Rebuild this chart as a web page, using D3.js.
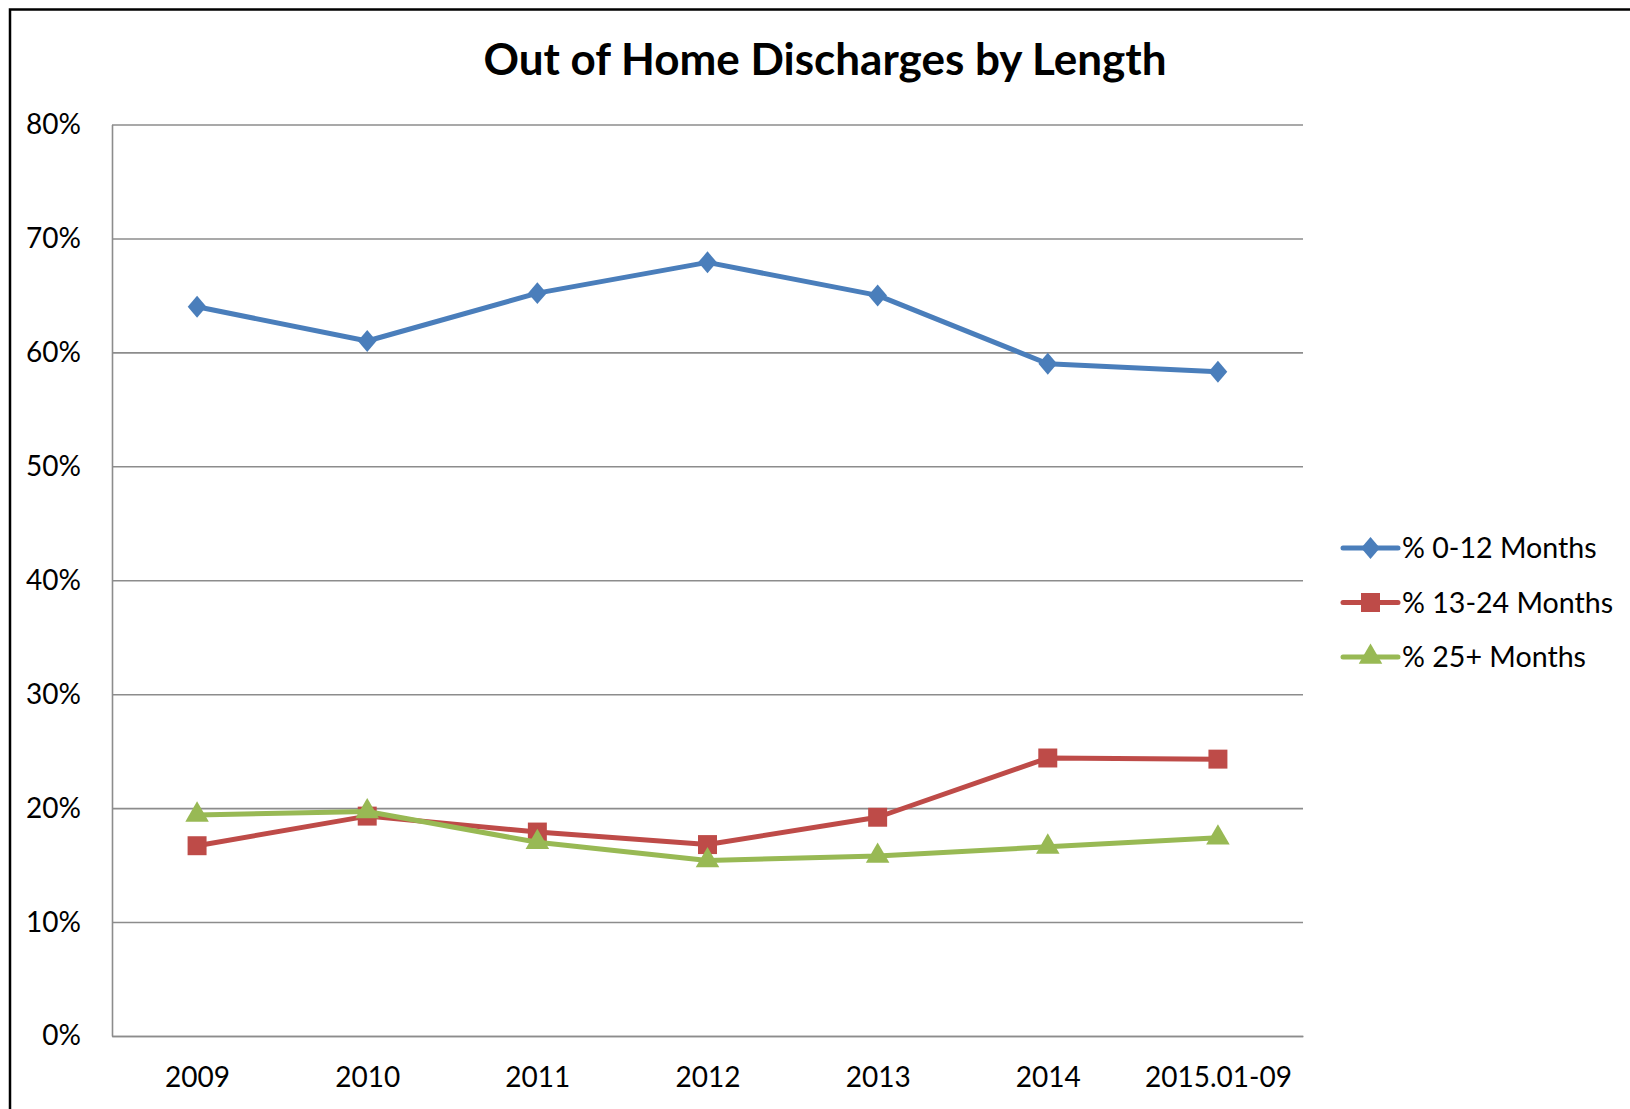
<!DOCTYPE html>
<html>
<head>
<meta charset="utf-8">
<script src="https://cdn.jsdelivr.net/npm/d3@7"></script>
<style>
  body { margin: 0; background: #fff; }
  svg { display: block; font-family: Lato, "Open Sans", sans-serif; }
</style>
</head>
<body>
<svg id="chart"></svg>
<script>
// chart data
var categories = ["2009", "2010", "2011", "2012", "2013", "2014", "2015.01-09"];
var seriesNames = ["% 0-12 Months", "% 13-24 Months", "% 25+ Months"];
var months0to12 = [0.640, 0.610, 0.652, 0.679, 0.650, 0.590, 0.583];
var months13to24 = [0.167, 0.193, 0.179, 0.168, 0.192, 0.244, 0.243];
var months25plus = [0.194, 0.197, 0.170, 0.154, 0.158, 0.166, 0.174];
var yTicks = [0, 0.1, 0.2, 0.3, 0.4, 0.5, 0.6, 0.7, 0.8];

var colors = ["#4a7ebb", "#be4b48", "#98b954"];
var shapes = ["diamond", "square", "triangle"];

var W = 1630, H = 1109;
var margin = { left: 112, right: 327, top: 124.5, bottom: 73 };
var width = W - margin.left - margin.right,
  height = H - margin.top - margin.bottom;

var svg = d3.select("#chart").attr("width", W).attr("height", H);

// outer frame (runs off the right and bottom edges like the original)
svg.append("rect")
  .attr("x", 10).attr("y", 9.5)
  .attr("width", W + 20).attr("height", H + 20)
  .attr("fill", "none").attr("stroke", "#000").attr("stroke-width", 2.5);

svg.append("text")
  .attr("x", 825).attr("y", 75)
  .attr("text-anchor", "middle")
  .attr("font-weight", "bold")
  .attr("font-size", 44)
  .text("Out of Home Discharges by Length");

var g = svg.append("g").attr("transform", `translate(${margin.left},${margin.top})`);

var x = d3.scalePoint().domain(categories).range([0, width]).padding(0.5);
var y = d3.scaleLinear().domain([0, 0.8]).range([height, 0]);

// gridlines
g.append("g")
  .attr("class", "grid")
  .call(d3.axisLeft(y).tickValues(yTicks).tickSize(-width).tickFormat(""))
  .call((a) => a.select(".domain").remove())
  .call((a) => a.selectAll("line").attr("stroke", "#8c8c8c").attr("stroke-width", 1.6));

// y labels
g.append("g")
  .call(d3.axisLeft(y).tickValues(yTicks).tickSize(0).tickPadding(31).tickFormat(d3.format(".0%")))
  .call((a) => a.select(".domain").attr("stroke", "#8c8c8c").attr("stroke-width", 1.6))
  .call((a) => a.selectAll("text").attr("font-size", 28).attr("fill", "#000")
    .attr("font-family", "Lato, sans-serif"));

// x axis
g.append("g")
  .attr("transform", `translate(0,${height})`)
  .call(d3.axisBottom(x).tickSize(0))
  .call((a) => a.select(".domain").attr("stroke", "#8c8c8c").attr("stroke-width", 1.6))
  .call((a) => a.selectAll("text").attr("dy", null).attr("y", 51)
    .attr("font-size", 28).attr("fill", "#000").attr("font-family", "Lato, sans-serif"));

var allSeries = [months0to12, months13to24, months25plus];

// excel style diamond: a bit wider than d3's default one
var wideDiamond = {
  draw: function (context, size) {
    var h = Math.sqrt(size) * 0.75, w = h * 0.85;
    context.moveTo(0, -h);
    context.lineTo(w, 0);
    context.lineTo(0, h);
    context.lineTo(-w, 0);
    context.closePath();
  },
};

var symbolFor = {
  diamond: d3.symbol().type(wideDiamond).size(215),
  square: d3.symbol().type(d3.symbolSquare).size(360),
  triangle: d3.symbol().type(d3.symbolTriangle).size(240),
};

var line = d3.line()
  .x((d, i) => x(categories[i]))
  .y((d) => y(d));

allSeries.forEach(function (vals, s) {
  g.append("path")
    .datum(vals)
    .attr("d", line)
    .attr("fill", "none")
    .attr("stroke", colors[s])
    .attr("stroke-width", 5)
    .attr("stroke-linejoin", "round");

  g.selectAll(".pt" + s)
    .data(vals)
    .enter()
    .append("path")
    .attr("class", "pt" + s)
    .attr("transform", (d, i) => `translate(${x(categories[i])},${y(d)})`)
    .attr("d", symbolFor[shapes[s]]())
    .attr("fill", colors[s]);
});

// legend
var legend = svg.append("g").attr("transform", "translate(1343,548)");
var rows = legend.selectAll("g")
  .data(seriesNames)
  .enter()
  .append("g")
  .attr("transform", (d, i) => `translate(0,${i * 54.5})`);

rows.append("line")
  .attr("x1", 0).attr("x2", 55)
  .attr("stroke", (d, i) => colors[i])
  .attr("stroke-width", 5)
  .attr("stroke-linecap", "round");

rows.append("path")
  .attr("transform", "translate(27.5,0)")
  .attr("d", (d, i) => symbolFor[shapes[i]]())
  .attr("fill", (d, i) => colors[i]);

rows.append("text")
  .attr("x", 59)
  .attr("dy", "0.35em")
  .attr("font-size", 28.6)
  .text((d) => d);
</script>
</body>
</html>
